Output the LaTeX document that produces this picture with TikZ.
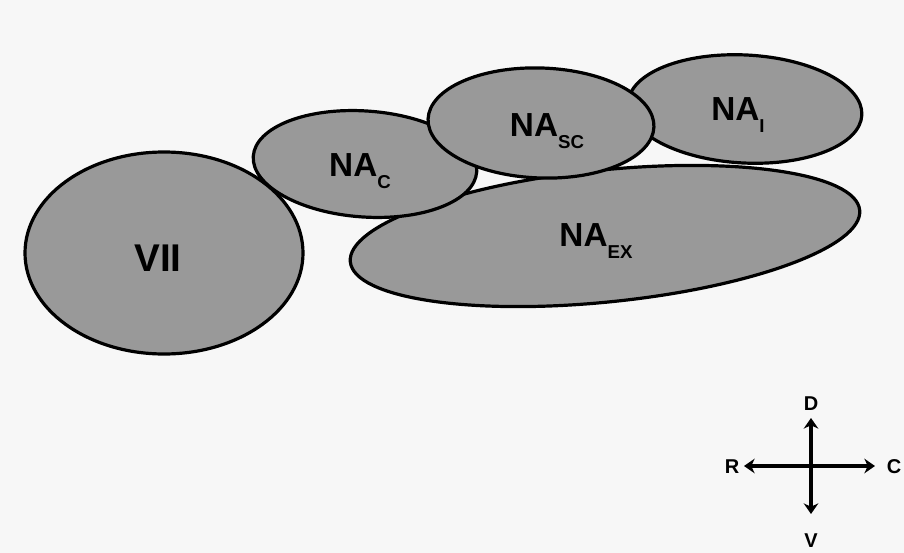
\documentclass[tikz,border=0pt]{standalone}
\usepackage{fontspec}
\setmainfont{Liberation Sans}
\usetikzlibrary{shapes.geometric,arrows.meta}
\newcommand{\nalab}[2]{\textbf{#1}\raisebox{-0.34em}{\fontsize{14}{14}\selectfont\textbf{#2}}}
\tikzset{
  region/.style={ellipse, draw=black, line width=2.4pt, fill=black!40, inner sep=0pt},
  lab/.style={font=\fontsize{25}{25}\selectfont, text=black, inner sep=0pt},
  dirlab/.style={font=\fontsize{15}{15}\selectfont\bfseries, text=black, inner sep=0pt},
  axis/.style={line width=3.6pt, {Stealth[length=8pt,width=11pt]}-{Stealth[length=8pt,width=11pt]}}
}
\begin{document}
\begin{tikzpicture}[x=0.75pt,y=-0.75pt]
\fill[black!3] (0,0) rectangle (904,553);
\useasboundingbox (0,0) rectangle (904,553);
% regions
\node[region, minimum width=175.5pt, minimum height=81pt, rotate=-3] (nai) at (745,109) {};
\node[region, minimum width=384pt, minimum height=99pt, rotate=5.8] (naex) at (605,236) {};
\node[region, minimum width=168pt, minimum height=79.5pt, rotate=-4] (nac) at (365,164) {};
\node[region, minimum width=169.5pt, minimum height=82.5pt, rotate=-2] (nasc) at (541,123) {};
\node[region, minimum width=208.5pt, minimum height=151.5pt] (vii) at (164,253) {};
% labels
\node[lab, font=\fontsize{29}{29}\selectfont\bfseries] (viil) at (158,258) {VII};
\node[lab] (nacl) at (360,171) {\nalab{NA}{C}};
\node[lab] (nascl) at (547,131) {\nalab{NA}{SC}};
\node[lab] (nail) at (738,115) {\nalab{NA}{I}};
\node[lab] (naexl) at (596,241) {\nalab{NA}{EX}};
% compass
\coordinate (top) at (811,418);
\coordinate (bot) at (811,514);
\coordinate (lft) at (744,466);
\coordinate (rgt) at (875,466);
\draw[axis] (lft) -- (rgt);
\draw[axis] (top) -- (bot);
\node[dirlab] (d) at (811,404) {D};
\node[dirlab] (v) at (811,541) {V};
\node[dirlab] (r) at (732,467) {R};
\node[dirlab] (c) at (894,467) {C};
\end{tikzpicture}
\end{document}
